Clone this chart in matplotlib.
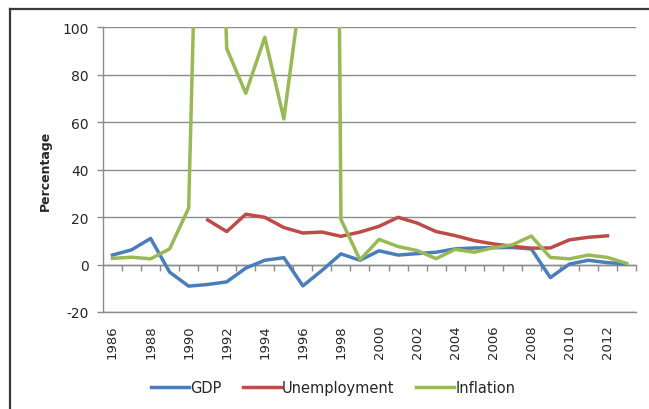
import matplotlib
matplotlib.use("Agg")
import matplotlib.pyplot as plt
from matplotlib.lines import Line2D

plt.rcParams['font.family'] = ['DejaVu Sans']
plt.rcParams['axes.unicode_minus'] = False

years = list(range(1986, 2014))
gdp = [4.0, 6.2, 11.0, -3.2, -9.1, -8.4, -7.3, -1.5, 1.8, 2.9, -9.0, -2.5, 4.5, 1.8,
       5.8, 4.0, 4.6, 5.2, 6.6, 7.0, 7.1, 7.2, 6.6, -5.5, 0.2, 1.8, 0.8, 0.3]
unemployment = [None, None, None, None, None, 18.8, 13.9, 21.2, 19.9, 15.6, 13.3, 13.7,
                11.9, 13.7, 16.1, 19.9, 17.5, 13.9, 12.2, 10.1, 8.7, 7.7, 6.9, 7.0,
                10.4, 11.5, 12.1, None]
inflation = [2.6, 3.1, 2.4, 6.6, 23.8, 338.9, 91.0, 72.2, 95.8, 61.4, 121.6, 1058.0,
             19.0, 2.0, 10.6, 7.6, 5.9, 2.5, 6.4, 5.2, 7.1, 8.3, 12.0, 3.0, 2.4, 4.0, 3.0, 0.5]
tick_years = [str(y) for y in range(1986, 2013, 2)]

colors = {'GDP': '#4A7EBB', 'Unemployment': '#BE4B48', 'Inflation': '#98B954'}
text_color = '#262626'
grid_color = '#8C8C8C'

fig = plt.figure(figsize=(6.49, 4.10), dpi=100)
ax = fig.add_axes([103/649, 1 - 313/410, 533/649, (313 - 28.3)/410])

x = list(range(len(years)))
nanify = lambda s: [float('nan') if v is None else v for v in s]
lw = 2.5
ax.plot(x, gdp, color=colors['GDP'], lw=lw, label='GDP', solid_joinstyle='round')
ax.plot(x, nanify(unemployment), color=colors['Unemployment'], lw=lw, label='Unemployment',
        solid_joinstyle='round')
ax.plot(x, inflation, color=colors['Inflation'], lw=lw, label='Inflation', solid_joinstyle='round')

ax.set_ylim(-20, 100)
ax.set_xlim(-0.5, len(years) - 0.5)
ax.set_yticks(range(-20, 101, 20))
ax.yaxis.grid(True, color=grid_color, lw=1.0)
ax.set_axisbelow(True)
for s in ['top', 'right']:
    ax.spines[s].set_visible(False)
for s in ['left', 'bottom']:
    ax.spines[s].set_color(grid_color)
    ax.spines[s].set_linewidth(1.0)
ax.tick_params(axis='y', direction='out', length=4.5, width=1.0, color=grid_color,
               labelsize=10, labelcolor=text_color, pad=6)

# category labels at bottom
label_idx = [years.index(int(t)) for t in tick_years]
ax.set_xticks(label_idx)
ax.set_xticklabels(tick_years, rotation=90, fontsize=9.5, color=text_color)
ax.tick_params(axis='x', length=0, pad=9)

# axis line at zero with tick marks between categories
sec = ax.secondary_xaxis(20/120)
sec.set_xticks([i - 0.5 for i in range(1, len(years) + 1)])
sec.tick_params(axis='x', direction='out', length=4.5, width=1.0, color=grid_color,
                labelbottom=False, labeltop=False)
sec.spines['bottom'].set_color(grid_color)
sec.spines['bottom'].set_linewidth(1.0)

ax.set_ylabel('Percentage', fontsize=9, fontweight='bold', color=text_color, labelpad=7)

leg = fig.legend(loc='center', bbox_to_anchor=(333/649, 1 - 388.5/410), ncol=3, frameon=False,
                 fontsize=10.5, handlelength=2.6, handletextpad=0.1, columnspacing=1.45)
for t in leg.get_texts():
    t.set_color(text_color)

# chart border (top and left edges visible)
fig.add_artist(Line2D([10/649, 1.0], [1 - 10/410, 1 - 10/410], color='#3A3A3A', lw=1.6,
                      transform=fig.transFigure))
fig.add_artist(Line2D([10/649, 10/649], [0.0, 1 - 10/410], color='#3A3A3A', lw=1.6,
                      transform=fig.transFigure))

fig.savefig('out.png', dpi=100)
